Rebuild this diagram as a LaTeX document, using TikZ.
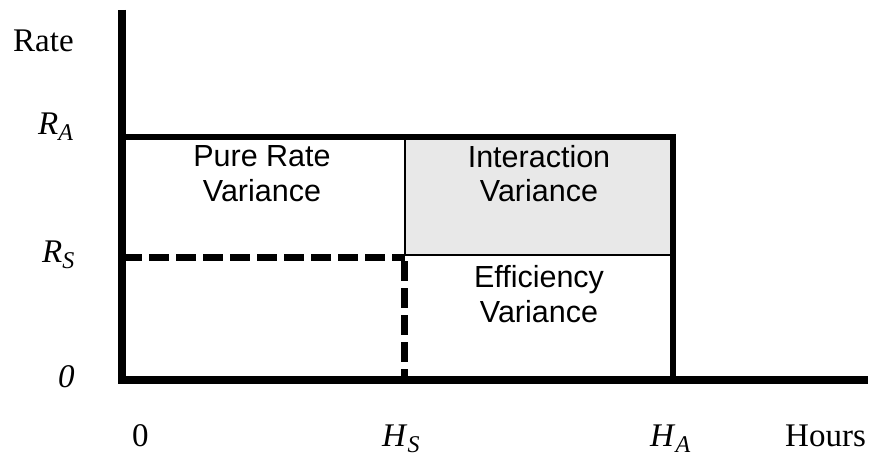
\documentclass[tikz,border=0pt]{standalone}
\usepackage{fontspec}
\setmainfont{Liberation Serif}
\newfontfamily\sansf{Liberation Sans}
\definecolor{cellgray}{HTML}{E8E8E8}
\newcommand\subtxt[1]{\raisebox{-6pt}{\fontsize{24}{26}\selectfont\itshape #1}}
\begin{document}
\begin{tikzpicture}[x=1pt,y=-1pt,
  serif/.style={font=\fontsize{33}{40}\selectfont, inner sep=0, anchor=base west},
  lab/.style={font=\sansf\fontsize{30.5}{35}\selectfont, inner sep=0, anchor=base},
  axisline/.style={line width=8pt},
  boxline/.style={line width=6pt},
  thinline/.style={line width=1.6pt},
  dashline/.style={line width=7pt, dash pattern=on 20pt off 7pt}]
\useasboundingbox (0,0) rectangle (883,457);
% coordinates
\coordinate (ytop) at (122,10);
\coordinate (ybot) at (122,384);
\coordinate (xl) at (118,380);
\coordinate (xr) at (868,380);
\coordinate (tl) at (122,137.5);
\coordinate (tm) at (405,137.5);
\coordinate (tr) at (673,137.5);
\coordinate (mm) at (405,255);
\coordinate (mr) at (673,255);
\coordinate (br) at (673,380);
\coordinate (dl) at (122,257.5);
\coordinate (dm) at (405,257.5);
\coordinate (dv) at (404,261);
\coordinate (db) at (404,380);
% shaded cell
\fill[cellgray] (tm) rectangle (mr);
% thin lines
\draw[thinline] (tm) -- (mm) -- (mr);
% dashed
\draw[dashline] (dl) -- (dm);
\draw[dashline] (dv) -- (db);
% box
\draw[boxline] (tl) -- (tr) -- (br);
% axes
\draw[axisline] (ytop) -- (ybot);
\draw[axisline] (xl) -- (xr);
% serif labels
\node[serif] (rate) at (13,52) {Rate};
\node[serif] (ra) at (38,135) {\textit{R}\subtxt{A}};
\node[serif] (rs) at (42,262) {\textit{R}\subtxt{S}};
\node[serif] (zi) at (58,387) {\textit{0}};
\node[serif] (z) at (132,446) {0};
\node[serif] (hs) at (382,446) {\textit{H}\subtxt{S}};
\node[serif] (ha) at (650,446) {\textit{H}\subtxt{A}};
\node[serif] (hours) at (785,446) {Hours};
% sans labels
\node[lab] (pr1) at (262,167) {Pure Rate};
\node[lab] (pr2) at (262,202) {Variance};
\node[lab] (iv1) at (539,168) {Interaction};
\node[lab] (iv2) at (539,202) {Variance};
\node[lab] (ev1) at (539,287) {Efficiency};
\node[lab] (ev2) at (539,322) {Variance};
\end{tikzpicture}
\end{document}
